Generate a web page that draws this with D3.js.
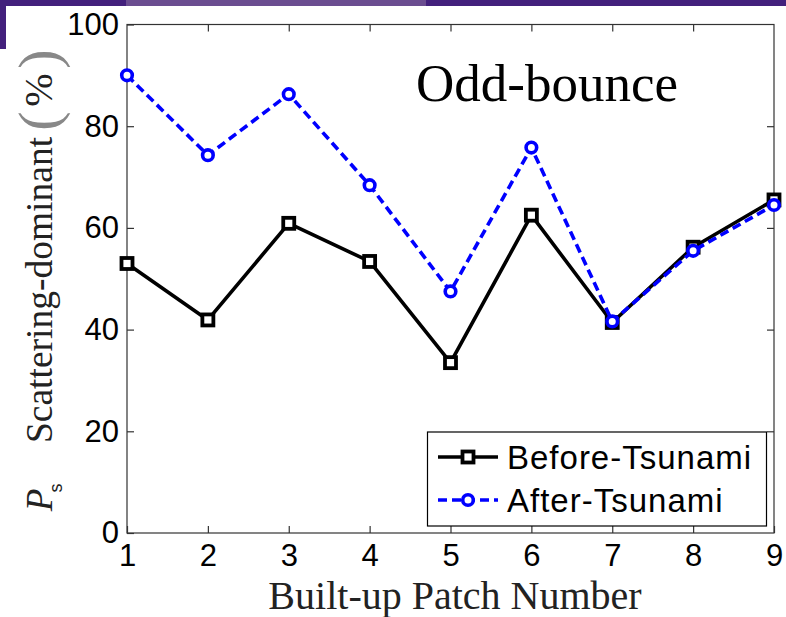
<!DOCTYPE html>
<html>
<head>
<meta charset="utf-8">
<title>Odd-bounce</title>
<style>
  html, body { margin:0; padding:0; background:#fff; }
  svg { display:block; }
</style>
<script src="https://d3js.org/d3.v7.min.js"></script>
</head>
<body>
<svg id="canvas" width="786" height="617"></svg>
<script>
  // values
  var patches = [1, 2, 3, 4, 5, 6, 7, 8, 9];
  var beforeTsunami = [53.0, 41.9, 60.9, 53.4, 33.5, 62.5, 41.4, 56.2, 65.5];
  var afterTsunami  = [90.0, 74.3, 86.3, 68.4, 47.5, 75.8, 41.6, 55.5, 64.5];
  var yTicks = [0, 20, 40, 60, 80, 100];
  var seriesNames = ["Before-Tsunami", "After-Tsunami"];

  var width = 786, height = 617;
  var margin = {top: 24.5, right: 12, bottom: 84, left: 127};
  var serif = "'Liberation Serif', 'Times New Roman', serif";
  var sans = "'Liberation Sans', Arial, sans-serif";

  var svg = d3.select("#canvas");

  // slide header bits (purple)
  svg.append("rect").attr("x", 0).attr("y", 0).attr("width", width).attr("height", 6).attr("fill", "#43207c");
  svg.append("rect").attr("x", 126).attr("y", 0).attr("width", 300).attr("height", 6).attr("fill", "#6b4d90");
  svg.append("rect").attr("x", 0).attr("y", 0).attr("width", 6).attr("height", 49).attr("fill", "#43207c");

  var x = d3.scaleLinear().domain([1, 9]).range([margin.left, width - margin.right]);
  var y = d3.scaleLinear().domain([0, 100]).range([height - margin.bottom, margin.top]);

  var axisColor = "#333";

  // frame
  svg.append("rect")
    .attr("x", x(1)).attr("y", y(100))
    .attr("width", x(9) - x(1)).attr("height", y(0) - y(100))
    .attr("fill", "none").attr("stroke", axisColor).attr("stroke-width", 1.2);

  function styleAxis(g) {
    g.select(".domain").remove();
    g.selectAll(".tick line").attr("stroke", axisColor).attr("stroke-width", 1.2);
    g.selectAll(".tick text")
      .attr("fill", "#000")
      .style("font-family", sans)
      .style("font-size", "31px");
  }

  svg.append("g")
    .attr("transform", "translate(0," + y(0) + ")")
    .call(d3.axisBottom(x).tickValues(patches).tickFormat(d3.format("d")).tickSizeInner(-7).tickSizeOuter(0).tickPadding(11))
    .call(styleAxis);
  svg.append("g")
    .attr("transform", "translate(0," + y(100) + ")")
    .call(d3.axisTop(x).tickValues(patches.slice(1, -1)).tickFormat("").tickSizeInner(-7).tickSizeOuter(0))
    .call(styleAxis);
  svg.append("g")
    .attr("transform", "translate(" + x(1) + ",0)")
    .call(d3.axisLeft(y).tickValues(yTicks).tickSizeInner(-7).tickSizeOuter(0).tickPadding(8))
    .call(styleAxis);
  svg.append("g")
    .attr("transform", "translate(" + x(9) + ",0)")
    .call(d3.axisRight(y).tickValues(yTicks.slice(1, -1)).tickFormat("").tickSizeInner(-7).tickSizeOuter(0))
    .call(styleAxis);

  // lines
  var line = d3.line()
    .x(function(d, i) { return x(patches[i]); })
    .y(function(d) { return y(d); });

  svg.append("path").datum(beforeTsunami)
    .attr("d", line).attr("fill", "none")
    .attr("stroke", "#000").attr("stroke-width", 3.6).attr("stroke-linejoin", "round");
  svg.selectAll(".sq").data(beforeTsunami).enter().append("rect")
    .attr("class", "sq")
    .attr("x", function(d, i) { return x(patches[i]) - 5.5; })
    .attr("y", function(d) { return y(d) - 5.5; })
    .attr("width", 11).attr("height", 11)
    .attr("fill", "#fff").attr("stroke", "#000").attr("stroke-width", 3.8);

  svg.append("path").datum(afterTsunami)
    .attr("d", line).attr("fill", "none")
    .attr("stroke", "#0000ff").attr("stroke-width", 3.6)
    .attr("stroke-dasharray", "9,5");
  svg.selectAll(".ci").data(afterTsunami).enter().append("circle")
    .attr("class", "ci")
    .attr("cx", function(d, i) { return x(patches[i]); })
    .attr("cy", function(d) { return y(d); })
    .attr("r", 5.3)
    .attr("fill", "#fff").attr("stroke", "#0000ff").attr("stroke-width", 3.6);

  // annotation
  svg.append("text").text("Odd-bounce")
    .attr("x", 416).attr("y", 101)
    .style("font-family", serif)
    .style("font-size", "53px");

  // x label
  svg.append("text").text("Built-up Patch Number")
    .attr("x", 455).attr("y", 609)
    .attr("text-anchor", "middle")
    .style("font-family", serif)
    .style("font-size", "40px")
    .attr("fill", "#222");

  // y label, pieces placed along the rotated axis
  function yPiece(txt, cy, bx, font, size, extra) {
    var t = svg.append("text").text(txt)
      .attr("transform", "rotate(-90)")
      .attr("x", -cy).attr("y", bx)
      .attr("text-anchor", "middle")
      .style("font-family", font)
      .style("font-size", size + "px")
      .attr("fill", "#222");
    if (extra) extra(t);
    return t;
  }
  function thinParen(t) { t.style("font-weight", "200").attr("fill", "#888"); }
  yPiece("P", 500, 52, serif, 37, function(t) { t.style("font-style", "italic"); });
  yPiece("s", 488, 62, sans, 18);
  yPiece("Scattering-dominant", 290, 52, serif, 37.5);
  yPiece("(", 121, 58, serif, 58, thinParen);
  yPiece("%", 90, 52, serif, 40);
  yPiece(")", 59, 58, serif, 58, thinParen);

  // legend
  var lg = svg.append("g");
  lg.append("rect")
    .attr("x", 427.5).attr("y", 432)
    .attr("width", 339).attr("height", 94)
    .attr("fill", "#fff").attr("stroke", "#000").attr("stroke-width", 1.2);
  var rows = [457, 500];
  seriesNames.forEach(function(name, i) {
    var ry = rows[i];
    lg.append("line")
      .attr("x1", 438).attr("x2", 498).attr("y1", ry).attr("y2", ry)
      .attr("stroke", i === 0 ? "#000" : "#0000ff").attr("stroke-width", 3.6)
      .attr("stroke-dasharray", i === 0 ? null : "9,5");
    if (i === 0) {
      lg.append("rect").attr("x", 462.5).attr("y", ry - 5.5).attr("width", 11).attr("height", 11)
        .attr("fill", "#fff").attr("stroke", "#000").attr("stroke-width", 3.8);
    } else {
      lg.append("circle").attr("cx", 468).attr("cy", ry).attr("r", 5.3)
        .attr("fill", "#fff").attr("stroke", "#0000ff").attr("stroke-width", 3.6);
    }
    lg.append("text").text(name)
      .attr("x", 507).attr("y", ry + 11.5)
      .style("font-family", sans)
      .style("font-size", "33px")
      .style("letter-spacing", "1px");
  });
</script>
</body>
</html>
